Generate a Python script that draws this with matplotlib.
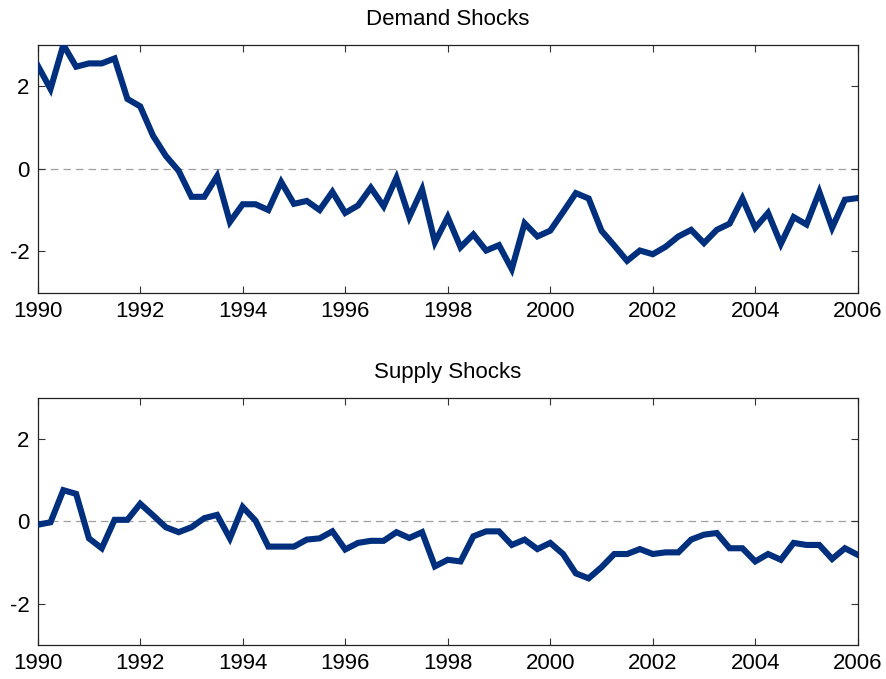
import numpy as np
import matplotlib.pyplot as plt

plt.rcParams['font.family'] = ['Liberation Sans', 'DejaVu Sans']
plt.rcParams['axes.unicode_minus'] = False

# quarterly dates, 1990Q1 .. 2006Q1
years = np.arange(65) / 4 + 1990

demand = [2.5, 1.93, 3.0, 2.47, 2.55, 2.55, 2.67, 1.69, 1.51, 0.8,
          0.31, -0.05, -0.68, -0.68, -0.18, -1.29, -0.86, -0.86, -1.0, -0.32,
          -0.85, -0.78, -1.0, -0.56, -1.07, -0.89, -0.46, -0.91, -0.22, -1.17,
          -0.5, -1.78, -1.17, -1.9, -1.59, -1.98, -1.85, -2.43, -1.32, -1.64,
          -1.5, -1.05, -0.59, -0.72, -1.5, -1.86, -2.23, -1.98, -2.07, -1.89,
          -1.64, -1.48, -1.8, -1.48, -1.33, -0.72, -1.43, -1.07, -1.82, -1.17,
          -1.35, -0.56, -1.43, -0.75, -0.71]

supply = [-0.08, -0.02, 0.76, 0.67, -0.41, -0.65, 0.04, 0.04, 0.43, 0.15,
          -0.14, -0.26, -0.14, 0.08, 0.16, -0.41, 0.35, 0.02, -0.61, -0.61,
          -0.61, -0.44, -0.41, -0.24, -0.68, -0.52, -0.47, -0.47, -0.26, -0.4,
          -0.26, -1.09, -0.93, -0.97, -0.36, -0.24, -0.24, -0.57, -0.44, -0.67,
          -0.52, -0.79, -1.26, -1.38, -1.11, -0.79, -0.79, -0.67, -0.79, -0.75,
          -0.75, -0.44, -0.32, -0.28, -0.65, -0.65, -0.97, -0.79, -0.93, -0.52,
          -0.57, -0.57, -0.91, -0.65, -0.81]

titles = ["Demand Shocks", "Supply Shocks"]
series = [demand, supply]

fig = plt.figure(figsize=(8.87, 6.79), dpi=100)
boxes = [[0.0425, 0.569, 0.9245, 0.365], [0.0425, 0.050, 0.9245, 0.364]]

for box, title, vals in zip(boxes, titles, series):
    ax = fig.add_axes(box)
    ax.axhline(0, color='#a0a0a0', lw=0.9, ls=(0, (6, 4)), zorder=1)
    ax.plot(years, vals, color='#00307d', lw=4.4, solid_joinstyle='miter',
            zorder=3)
    ax.set_xlim(1990, 2006)
    ax.set_ylim(-3, 3)
    ax.set_xticks(np.arange(1990, 2007, 2))
    ax.set_yticks([-2, 0, 2])
    ax.tick_params(direction='in', top=True, right=True, length=5,
                   width=0.8, labelsize=16, pad=6, color='#333333')
    for s in ax.spines.values():
        s.set_linewidth(0.9)
        s.set_color('#222222')
    ax.set_title(title, fontsize=16, pad=14)

fig.savefig('out.png', dpi=100)
